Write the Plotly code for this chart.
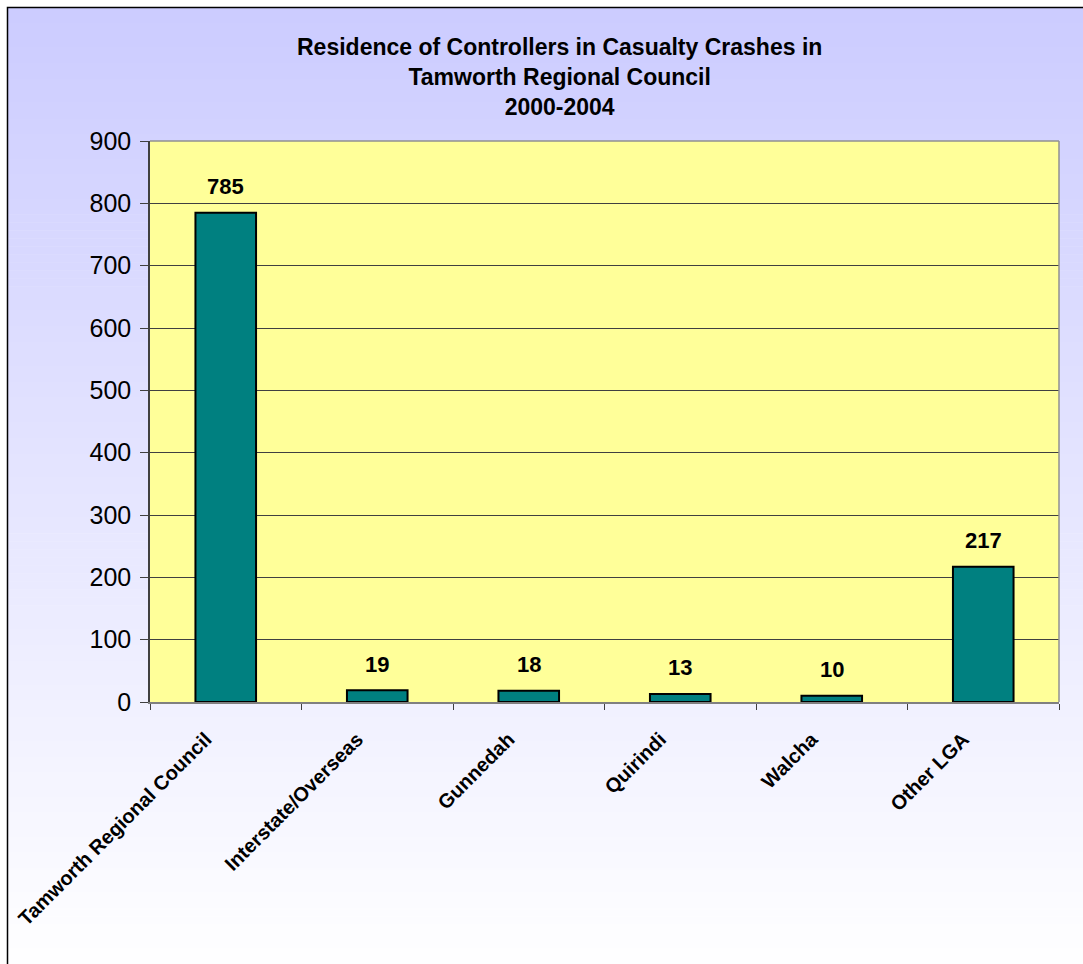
import plotly.graph_objects as go

categories = ["Tamworth Regional Council", "Interstate/Overseas", "Gunnedah", "Quirindi", "Walcha", "Other LGA"]
values = [785, 19, 18, 13, 10, 217]
y_ticks = [0, 100, 200, 300, 400, 500, 600, 700, 800, 900]

W, H = 1083, 964
L, R, T, B = 150, 24, 141, 262
pw, ph = W - L - R, H - T - B
FONT = "Liberation Sans, Arial"

def px(x):
    return (x - L) / pw

def py(y):
    return (H - B - y) / ph

fig = go.Figure()
fig.add_trace(go.Bar(
    x=categories, y=values, width=0.4,
    marker=dict(color="#008080", line=dict(color="#000000", width=2)),
))

annotations = [dict(x=c, y=v, text=f"<b>{v}</b>", xref="x", yref="y", showarrow=False,
                    yanchor="middle", yshift=26, font=dict(size=22, family=FONT, color="#000000"))
               for c, v in zip(categories, values)]
annotations.append(dict(
    text="<b>Residence of Controllers in Casualty Crashes in<br>Tamworth Regional Council<br>2000-2004</b>",
    xref="paper", yref="paper", x=px(559), y=py(77), xanchor="center", yanchor="middle",
    showarrow=False, font=dict(size=23, family=FONT, color="#000000"), align="center"))

shapes = []
n = 120
for i in range(n):
    y0 = 7 + (H - 7) * i / n
    y1 = 7 + (H - 7) * (i + 1) / n
    t = (i + 0.5) / n
    r = int(204 + (255 - 204) * t)
    c = f"rgb({r},{r},255)"
    shapes.append(dict(type="rect", xref="paper", yref="paper", layer="below",
                       x0=px(7), x1=px(W + 5), y0=py(y1 + 0.5), y1=py(y0),
                       fillcolor=c, line=dict(width=0)))
shapes.append(dict(type="rect", xref="paper", yref="paper", layer="below",
                   x0=0, x1=1, y0=0, y1=1, fillcolor="#FFFF99", line=dict(width=0)))
shapes.append(dict(type="path", xref="paper", yref="paper",
                   path=f"M {px(7.5)} {py(H + 5)} L {px(7.5)} {py(7.5)} L {px(W + 5)} {py(7.5)}",
                   line=dict(color="#000000", width=1.5)))
shapes.append(dict(type="line", xref="paper", yref="paper", x0=1, x1=1, y0=0, y1=1,
                   line=dict(color="#909090", width=1.5)))
shapes.append(dict(type="line", xref="paper", yref="paper", x0=0, x1=1, y0=1, y1=1,
                   line=dict(color="#909090", width=1.5)))

fig.update_layout(
    width=W, height=H,
    margin=dict(l=L, r=R, t=T, b=B),
    paper_bgcolor="#FFFFFF", plot_bgcolor="rgba(0,0,0,0)",
    showlegend=False,
    shapes=shapes,
    font=dict(family=FONT, color="#000000"),
    annotations=annotations,
)
fig.update_yaxes(range=[0, 900], tickvals=y_ticks, showgrid=True, gridcolor="#404040", gridwidth=1,
                 ticks="outside", ticklen=8, tickcolor="#404040", showline=True, linecolor="#404040",
                 linewidth=1.5, tickfont=dict(size=25), zeroline=False, ticklabelstandoff=4)
fig.update_xaxes(tickangle=-45, ticks="outside", tickson="boundaries", ticklen=6, tickcolor="#404040",
                 showline=True, linecolor="#808080", linewidth=1.5,
                 ticklabelstandoff=16, ticklabelshift=-20,
                 tickfont=dict(size=20, family=FONT, weight="bold"))
fig.write_html("out.html")
